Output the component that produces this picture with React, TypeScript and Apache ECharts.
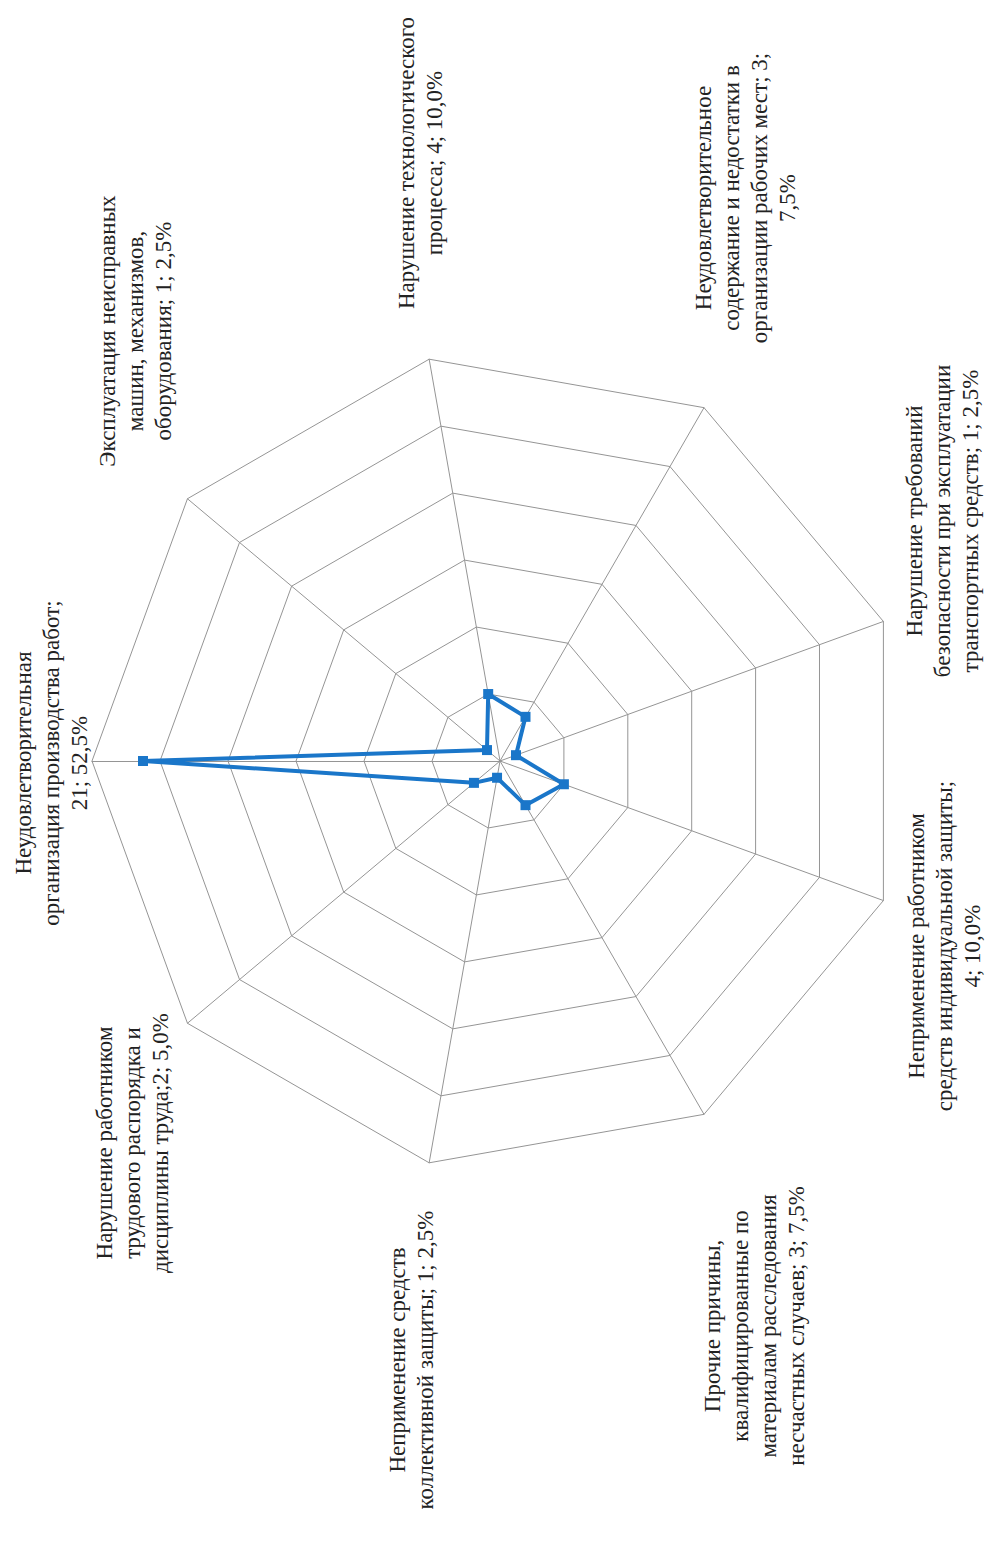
import React, { useEffect, useRef } from 'react';
import * as echarts from 'echarts';

// ---- data (clockwise order, starting from the axis that points left on the page) ----
const categories = [
  'Неудовлетворительная организация производства работ',
  'Эксплуатация неисправных машин, механизмов, оборудования',
  'Нарушение технологического процесса',
  'Неудовлетворительное содержание и недостатки в организации рабочих мест',
  'Нарушение требований безопасности при эксплуатации транспортных средств',
  'Неприменение работником средств индивидуальной защиты',
  'Прочие причины, квалифицированные по материалам расследования несчастных случаев',
  'Неприменение средств коллективной защиты',
  'Нарушение работником трудового распорядка и дисциплины труда',
];
const counts = [21, 1, 4, 3, 1, 4, 3, 1, 2];
const shares = ['52,5%', '2,5%', '10,0%', '7,5%', '2,5%', '10,0%', '7,5%', '2,5%', '5,0%'];
const labelLines = [
  ['Неудовлетворительная', 'организация производства работ;', '21; 52,5%'],
  ['Эксплуатация неисправных', 'машин, механизмов,', 'оборудования; 1; 2,5%'],
  ['Нарушение технологического', 'процесса; 4; 10,0%'],
  ['Неудовлетворительное', 'содержание и недостатки в', 'организации рабочих мест; 3;', '7,5%'],
  ['Нарушение требований', 'безопасности при эксплуатации', 'транспортных средств; 1; 2,5%'],
  ['Неприменение работником', 'средств индивидуальной защиты;', '4; 10,0%'],
  ['Прочие причины,', 'квалифицированные по', 'материалам расследования', 'несчастных случаев; 3; 7,5%'],
  ['Неприменение средств', 'коллективной защиты; 1; 2,5%'],
  ['Нарушение работником', 'трудового распорядка и', 'дисциплины труда;2; 5,0%'],
];
const axisMax = 24;
const ringCount = 6;

// ---- layout (kept apart from the data) ----
// [left edge of the rotated text block, vertical centre] in page pixels
const labelAnchors: [number, number][] = [
  [9, 763],
  [93, 331],
  [392, 163],
  [689, 198],
  [900, 521],
  [902, 946],
  [698, 1326],
  [383, 1360],
  [90, 1143],
];
// ECharts lays radar indicators out counter-clockwise; the source runs clockwise
const order = [0, 8, 7, 6, 5, 4, 3, 2, 1];

export default function App() {
  const ref = useRef<HTMLDivElement>(null);

  useEffect(() => {
    if (!ref.current) return;
    const chart = echarts.init(ref.current, null, { renderer: 'svg' });
    const gridColor = '#959595';
    chart.setOption({
      animation: false,
      backgroundColor: '#ffffff',
      radar: {
        center: [500, 761],
        radius: 408,
        startAngle: 180,
        splitNumber: ringCount,
        shape: 'polygon',
        indicator: order.map((i) => ({ name: categories[i], min: 0, max: axisMax })),
        axisName: { show: false },
        axisLine: { lineStyle: { color: gridColor, width: 1 } },
        splitLine: { lineStyle: { color: gridColor, width: 1 } },
        splitArea: { show: false },
        axisTick: { show: false },
        axisLabel: { show: false },
      },
      series: [
        {
          type: 'radar',
          symbol: 'rect',
          symbolSize: 10,
          lineStyle: { color: '#1a76c9', width: 4 },
          itemStyle: { color: '#1a76c9' },
          data: [
            {
              name: 'Причины несчастных случаев',
              value: order.map((i) => counts[i]),
            },
          ],
        },
      ],
      graphic: labelLines.map((lines, i) => ({
        type: 'text',
        x: labelAnchors[i][0],
        y: labelAnchors[i][1],
        rotation: Math.PI / 2,
        silent: true,
        style: {
          text: lines.join('\n'),
          fontSize: 23,
          fontFamily: '"Liberation Serif", "Times New Roman", serif',
          fill: '#222222',
          align: 'center',
          verticalAlign: 'top',
          lineHeight: 28,
        },
      })),
    });
    return () => chart.dispose();
  }, []);

  return (
    <div
      ref={ref}
      style={{ position: 'absolute', left: 0, top: 0, width: 990, height: 1541, background: '#fff' }}
      data-shares={shares.join(' ')}
    />
  );
}
